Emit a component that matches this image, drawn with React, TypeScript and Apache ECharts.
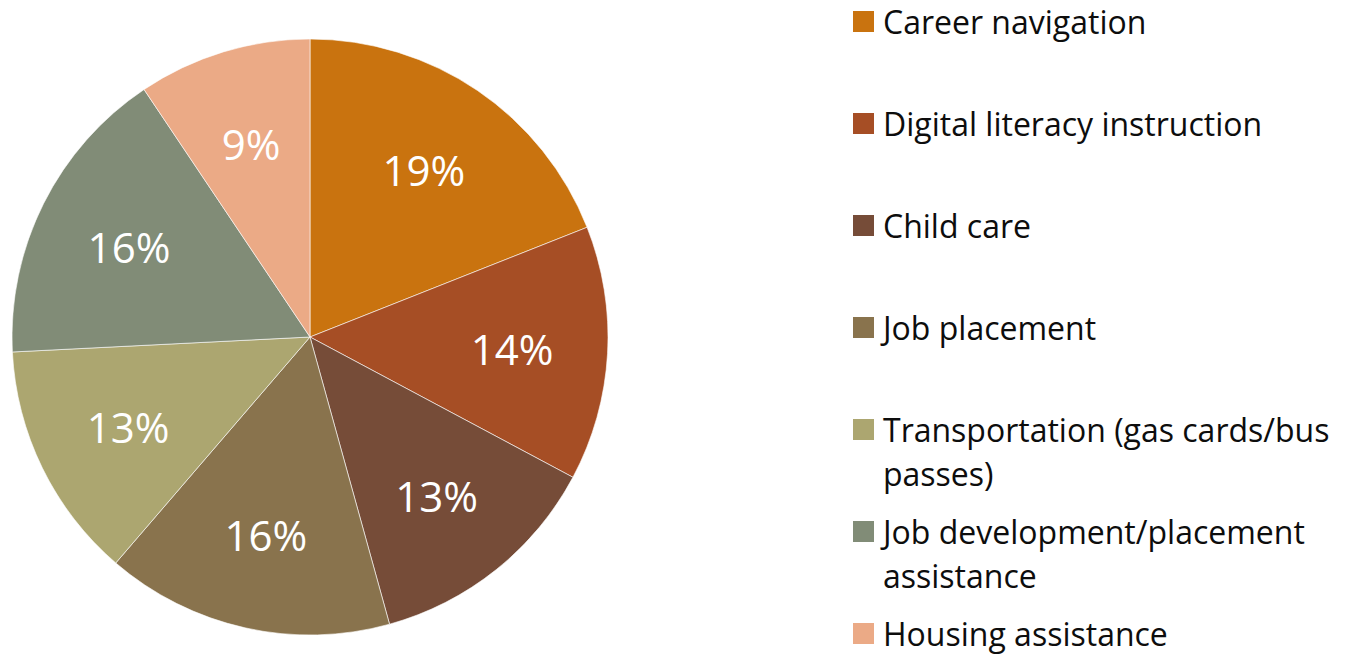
import React, { useEffect, useRef } from "react";
import * as echarts from "echarts";

const categories = [
  "Career navigation",
  "Digital literacy instruction",
  "Child care",
  "Job placement",
  "Transportation (gas cards/bus passes)",
  "Job development/placement assistance",
  "Housing assistance",
];
const values = [19.0, 13.8, 12.9, 15.6, 12.9, 16.4, 9.4];
const colors = ["#C9730F", "#A64E25", "#764C38", "#89734D", "#ACA670", "#818C77", "#EBAA86"];

const FONT = '"Open Sans", "Noto Sans", sans-serif';

export default function App() {
  const ref = useRef<HTMLDivElement>(null);
  useEffect(() => {
    if (!ref.current) return;
    const chart = echarts.init(ref.current, undefined, { renderer: "svg" });
    const data = categories.map((name, i) => ({ name, value: values[i], itemStyle: { color: colors[i] } }));
    const R = 298;
    const legendTop = 21.5;
    const pitch = 102;
    const LH = 44;
    const legendEls: any[] = [];
    categories.forEach((name, i) => {
      const cy = legendTop + i * pitch;
      legendEls.push({
        type: "rect",
        x: 853,
        y: cy - 10.5,
        shape: { width: 21, height: 21 },
        style: { fill: colors[i] },
        silent: true,
      });
      legendEls.push({
        type: "text",
        x: 883,
        y: cy - LH / 2,
        style: {
          text: name,
          fontSize: 32,
          fontFamily: FONT,
          fill: "#0d0d0d",
          width: 462,
          overflow: "break",
          lineHeight: LH,
          verticalAlign: "top",
          align: "left",
        },
        silent: true,
      });
    });
    chart.setOption({
      animation: false,
      backgroundColor: "#ffffff",
      graphic: legendEls,
      series: [
        {
          type: "pie",
          center: [310, 337],
          radius: [0, R],
          startAngle: 90,
          clockwise: true,
          data,
          label: { show: false },
          labelLine: { show: false },
          itemStyle: { borderColor: "#ffffff", borderWidth: 0.6 },
          emphasis: { disabled: true },
          silent: true,
        },
        {
          type: "pie",
          center: [310, 337],
          radius: [Math.round(R * 0.34), R],
          startAngle: 90,
          clockwise: true,
          data: categories.map((name, i) => ({ name, value: values[i] })),
          itemStyle: { color: "rgba(0,0,0,0)" },
          label: {
            show: true,
            position: "inside",
            color: "#ffffff",
            fontSize: 42,
            fontFamily: FONT,
            formatter: (p: any) => Math.round(p.percent) + "%",
          },
          labelLine: { show: false },
          emphasis: { disabled: true },
          silent: true,
        },
      ],
    });
    return () => chart.dispose();
  }, []);
  return (
    <div
      ref={ref}
      style={{ position: "absolute", left: 0, top: 0, width: 1351, height: 656, background: "#fff" }}
    />
  );
}
